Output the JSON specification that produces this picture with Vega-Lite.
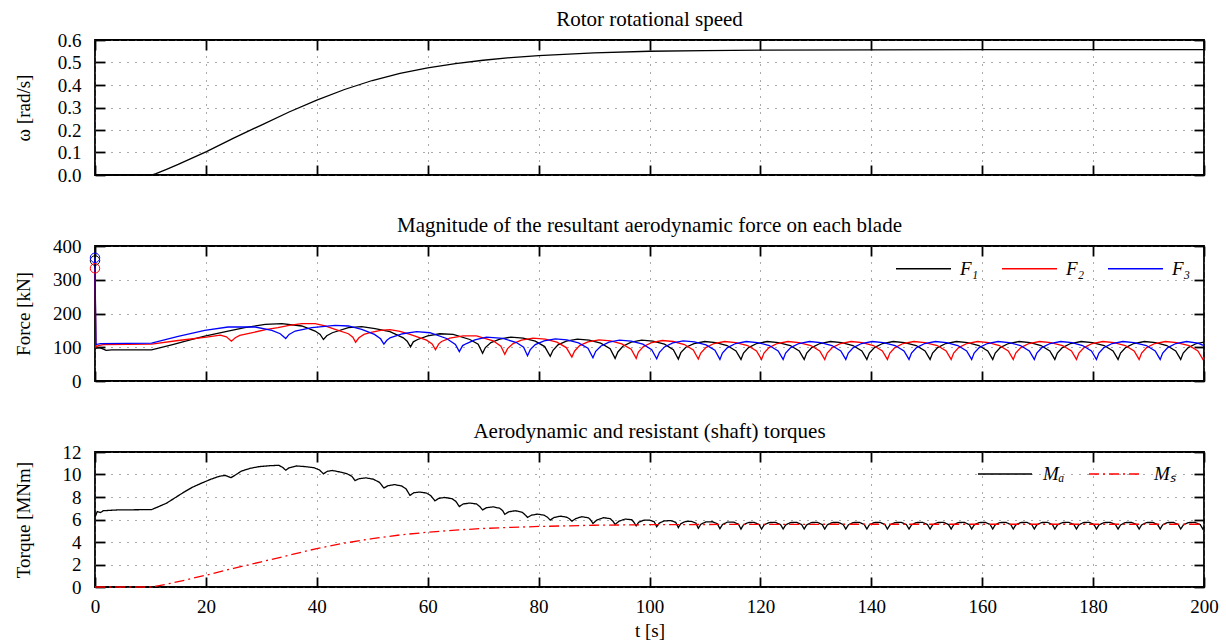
{
"$schema": "https://vega.github.io/schema/vega-lite/v6.json",
"padding": {"left": 13, "top": 8, "right": 5, "bottom": 2},
"config": {
 "font": "Liberation Serif",
 "view": {"stroke": "black", "strokeWidth": 1.8},
 "axis": {"domain": false, "labelFont": "Liberation Serif", "labelFontSize": 19, "labelColor": "black", "titleFont": "Liberation Serif", "titleFontSize": 19, "titleFontWeight": "normal", "titleColor": "black", "tickColor": "black", "tickWidth": 1.8, "tickSize": -10, "gridColor": "#555", "gridDash": [1, 7], "gridWidth": 1, "gridOpacity": 1, "labelFlush": false, "labelOverlap": false},
 "title": {"font": "Liberation Serif", "fontSize": 21, "fontWeight": "normal", "color": "black", "offset": 1, "baseline": "alphabetic"},
 "legend": {"labelFont": "Liberation Serif", "labelFontSize": 19, "labelFontStyle": "italic", "labelColor": "black"}
},
"datasets": {
 "omega": [
  {"t":0,"v":0},{"t":10.2,"v":0},{"t":11,"v":0.006},{"t":12.9,"v":0.025},{"t":15,"v":0.047},{"t":20.1,"v":0.104},{"t":25,"v":0.164},{"t":30,"v":0.222},{"t":35,"v":0.28},{"t":40,"v":0.333},{"t":45,"v":0.38},{"t":50,"v":0.42},{"t":55,"v":0.452},{"t":60,"v":0.476},{"t":65,"v":0.495},{"t":70,"v":0.51},{"t":75,"v":0.522},{"t":80,"v":0.531},{"t":90,"v":0.543},{"t":100,"v":0.55},{"t":110,"v":0.553},{"t":120,"v":0.555},{"t":140,"v":0.556},{"t":160,"v":0.557},{"t":200,"v":0.557}
 ],
 "start": [
  {"s":"F₁","t":0,"v":357},{"s":"F₂","t":0,"v":334},{"s":"F₃","t":0,"v":365}
 ],
 "force": [
  {"s":"F₁","t":0,"v":357},{"s":"F₁","t":0.15,"v":97},{"s":"F₁","t":0.8,"v":99},{"s":"F₁","t":1.3,"v":96},{"s":"F₁","t":2.0,"v":91},{"s":"F₁","t":3,"v":92},{"s":"F₁","t":10.2,"v":92},{"s":"F₁","t":14,"v":108},{"s":"F₁","t":17,"v":121},{"s":"F₁","t":19.8,"v":133},{"s":"F₁","t":24,"v":148},{"s":"F₁","t":27,"v":158},{"s":"F₁","t":30.7,"v":168},{"s":"F₁","t":33.7,"v":170},{"s":"F₁","t":37.3,"v":163},{"s":"F₁","t":39.7,"v":148},{"s":"F₁","t":40.6,"v":138},{"s":"F₁","t":41.2,"v":123},{"s":"F₁","t":41.8,"v":134},{"s":"F₁","t":42.8,"v":143},{"s":"F₁","t":45.7,"v":158},{"s":"F₁","t":48.1,"v":161},{"s":"F₁","t":50.5,"v":155},{"s":"F₁","t":53.2,"v":146},{"s":"F₁","t":55.6,"v":128},{"s":"F₁","t":56.3,"v":118},{"s":"F₁","t":56.9,"v":101},{"s":"F₁","t":57.4,"v":116},{"s":"F₁","t":58.2,"v":123},{"s":"F₁","t":60,"v":134},{"s":"F₁","t":62.2,"v":140},{"s":"F₁","t":64.6,"v":138},{"s":"F₁","t":67.6,"v":123},{"s":"F₁","t":69.1,"v":109},{"s":"F₁","t":69.9,"v":82},
  {"s":"F₁","t":70.4,"v":99},{"s":"F₁","t":71.4,"v":114},{"s":"F₁","t":73.0,"v":124},{"s":"F₁","t":75.0,"v":130},{"s":"F₁","t":77.2,"v":127},{"s":"F₁","t":79.4,"v":118},{"s":"F₁","t":81.1,"v":102},{"s":"F₁","t":82.1,"v":73},
  {"s":"F₁","t":82.6,"v":91},{"s":"F₁","t":83.5,"v":107},{"s":"F₁","t":85.0,"v":118},{"s":"F₁","t":87.0,"v":124},{"s":"F₁","t":89.1,"v":121},{"s":"F₁","t":91.2,"v":112},{"s":"F₁","t":92.9,"v":96},{"s":"F₁","t":93.8,"v":67},
  {"s":"F₁","t":94.3,"v":86},{"s":"F₁","t":95.2,"v":103},{"s":"F₁","t":96.7,"v":115},{"s":"F₁","t":98.6,"v":121},{"s":"F₁","t":100.6,"v":118},{"s":"F₁","t":102.7,"v":109},{"s":"F₁","t":104.3,"v":93},{"s":"F₁","t":105.2,"v":65},
  {"s":"F₁","t":105.65,"v":84},{"s":"F₁","t":106.56,"v":100},{"s":"F₁","t":108.03,"v":111},{"s":"F₁","t":109.95,"v":117},{"s":"F₁","t":111.98,"v":114},{"s":"F₁","t":114.0,"v":105},{"s":"F₁","t":115.6,"v":89},{"s":"F₁","t":116.5,"v":64},
  {"s":"F₁","t":116.95,"v":83},{"s":"F₁","t":117.86,"v":99},{"s":"F₁","t":119.33,"v":111},{"s":"F₁","t":121.25,"v":117},{"s":"F₁","t":123.28,"v":114},{"s":"F₁","t":125.4,"v":105},{"s":"F₁","t":127.0,"v":89},{"s":"F₁","t":127.9,"v":64},
  {"s":"F₁","t":128.35,"v":83},{"s":"F₁","t":129.26,"v":99},{"s":"F₁","t":130.73,"v":111},{"s":"F₁","t":132.65,"v":117},{"s":"F₁","t":134.68,"v":114},{"s":"F₁","t":136.7,"v":105},{"s":"F₁","t":138.3,"v":89},{"s":"F₁","t":139.2,"v":64},
  {"s":"F₁","t":139.65,"v":83},{"s":"F₁","t":140.56,"v":99},{"s":"F₁","t":142.03,"v":111},{"s":"F₁","t":143.95,"v":117},{"s":"F₁","t":145.98,"v":114},{"s":"F₁","t":148.1,"v":105},{"s":"F₁","t":149.7,"v":89},{"s":"F₁","t":150.6,"v":64},
  {"s":"F₁","t":151.05,"v":83},{"s":"F₁","t":151.96,"v":99},{"s":"F₁","t":153.43,"v":111},{"s":"F₁","t":155.35,"v":117},{"s":"F₁","t":157.38,"v":114},{"s":"F₁","t":159.4,"v":105},{"s":"F₁","t":161.0,"v":89},{"s":"F₁","t":161.9,"v":64},
  {"s":"F₁","t":162.35,"v":83},{"s":"F₁","t":163.26,"v":99},{"s":"F₁","t":164.73,"v":111},{"s":"F₁","t":166.65,"v":117},{"s":"F₁","t":168.68,"v":114},{"s":"F₁","t":170.6,"v":105},{"s":"F₁","t":172.2,"v":89},{"s":"F₁","t":173.1,"v":64},
  {"s":"F₁","t":173.55,"v":83},{"s":"F₁","t":174.46,"v":99},{"s":"F₁","t":175.93,"v":111},{"s":"F₁","t":177.85,"v":117},{"s":"F₁","t":179.88,"v":114},{"s":"F₁","t":182.0,"v":105},{"s":"F₁","t":183.6,"v":89},{"s":"F₁","t":184.5,"v":64},
  {"s":"F₁","t":184.95,"v":83},{"s":"F₁","t":185.86,"v":99},{"s":"F₁","t":187.33,"v":111},{"s":"F₁","t":189.25,"v":117},{"s":"F₁","t":191.28,"v":114},{"s":"F₁","t":193.3,"v":105},{"s":"F₁","t":194.9,"v":89},{"s":"F₁","t":195.8,"v":64},
  {"s":"F₁","t":196.25,"v":83},{"s":"F₁","t":197.16,"v":99},{"s":"F₁","t":198.63,"v":111},{"s":"F₁","t":200,"v":115},

  {"s":"F₂","t":0,"v":334},{"s":"F₂","t":0.15,"v":100},{"s":"F₂","t":0.6,"v":105},{"s":"F₂","t":1.5,"v":108},{"s":"F₂","t":10.2,"v":109},{"s":"F₂","t":15,"v":120},{"s":"F₂","t":20.1,"v":130},{"s":"F₂","t":22.6,"v":136},{"s":"F₂","t":23.7,"v":131},{"s":"F₂","t":24.6,"v":118},{"s":"F₂","t":25.3,"v":128},{"s":"F₂","t":26.1,"v":135},{"s":"F₂","t":28,"v":142},{"s":"F₂","t":31,"v":153},{"s":"F₂","t":33,"v":158},{"s":"F₂","t":35,"v":165},{"s":"F₂","t":37.3,"v":170},{"s":"F₂","t":39.7,"v":170},{"s":"F₂","t":41.5,"v":163},{"s":"F₂","t":43.3,"v":153},{"s":"F₂","t":45.7,"v":140},{"s":"F₂","t":46.5,"v":130},{"s":"F₂","t":47.0,"v":115},{"s":"F₂","t":47.6,"v":128},{"s":"F₂","t":48.5,"v":138},{"s":"F₂","t":49.6,"v":143},{"s":"F₂","t":51.5,"v":150},{"s":"F₂","t":53.2,"v":152},{"s":"F₂","t":55,"v":147},{"s":"F₂","t":56.8,"v":138},{"s":"F₂","t":59.8,"v":121},{"s":"F₂","t":60.8,"v":110},{"s":"F₂","t":61.4,"v":93},{"s":"F₂","t":62.0,"v":110},{"s":"F₂","t":62.5,"v":117},{"s":"F₂","t":64,"v":127},{"s":"F₂","t":66.4,"v":134},{"s":"F₂","t":68.8,"v":134},{"s":"F₂","t":71.8,"v":119},{"s":"F₂","t":73.2,"v":103},{"s":"F₂","t":73.9,"v":79},
  {"s":"F₂","t":74.4,"v":96},{"s":"F₂","t":75.4,"v":111},{"s":"F₂","t":76.9,"v":121},{"s":"F₂","t":79.0,"v":127},{"s":"F₂","t":81.2,"v":124},{"s":"F₂","t":83.3,"v":115},{"s":"F₂","t":85.0,"v":99},{"s":"F₂","t":86.0,"v":71},
  {"s":"F₂","t":86.5,"v":89},{"s":"F₂","t":87.4,"v":105},{"s":"F₂","t":88.9,"v":116},{"s":"F₂","t":90.9,"v":122},{"s":"F₂","t":93.0,"v":119},{"s":"F₂","t":95.0,"v":110},{"s":"F₂","t":96.7,"v":94},{"s":"F₂","t":97.6,"v":67},
  {"s":"F₂","t":98.0,"v":86},{"s":"F₂","t":98.9,"v":102},{"s":"F₂","t":100.4,"v":114},{"s":"F₂","t":102.3,"v":120},{"s":"F₂","t":104.3,"v":117},{"s":"F₂","t":106.3,"v":108},{"s":"F₂","t":107.9,"v":92},{"s":"F₂","t":108.8,"v":65},
  {"s":"F₂","t":109.25,"v":83},{"s":"F₂","t":110.16,"v":99},{"s":"F₂","t":111.63,"v":111},{"s":"F₂","t":113.55,"v":117},{"s":"F₂","t":115.58,"v":114},{"s":"F₂","t":117.7,"v":105},{"s":"F₂","t":119.3,"v":89},{"s":"F₂","t":120.2,"v":64},
  {"s":"F₂","t":120.65,"v":83},{"s":"F₂","t":121.56,"v":99},{"s":"F₂","t":123.03,"v":111},{"s":"F₂","t":124.95,"v":117},{"s":"F₂","t":126.98,"v":114},{"s":"F₂","t":129.1,"v":105},{"s":"F₂","t":130.7,"v":89},{"s":"F₂","t":131.6,"v":64},
  {"s":"F₂","t":132.05,"v":83},{"s":"F₂","t":132.96,"v":99},{"s":"F₂","t":134.43,"v":111},{"s":"F₂","t":136.35,"v":117},{"s":"F₂","t":138.38,"v":114},{"s":"F₂","t":140.4,"v":105},{"s":"F₂","t":142.0,"v":89},{"s":"F₂","t":142.9,"v":64},
  {"s":"F₂","t":143.35,"v":83},{"s":"F₂","t":144.26,"v":99},{"s":"F₂","t":145.73,"v":111},{"s":"F₂","t":147.65,"v":117},{"s":"F₂","t":149.68,"v":114},{"s":"F₂","t":151.9,"v":105},{"s":"F₂","t":153.5,"v":89},{"s":"F₂","t":154.4,"v":64},
  {"s":"F₂","t":154.85,"v":83},{"s":"F₂","t":155.76,"v":99},{"s":"F₂","t":157.23,"v":111},{"s":"F₂","t":159.15,"v":117},{"s":"F₂","t":161.18,"v":114},{"s":"F₂","t":163.1,"v":105},{"s":"F₂","t":164.7,"v":89},{"s":"F₂","t":165.6,"v":64},
  {"s":"F₂","t":166.05,"v":83},{"s":"F₂","t":166.96,"v":99},{"s":"F₂","t":168.43,"v":111},{"s":"F₂","t":170.35,"v":117},{"s":"F₂","t":172.38,"v":114},{"s":"F₂","t":174.5,"v":105},{"s":"F₂","t":176.1,"v":89},{"s":"F₂","t":177.0,"v":64},
  {"s":"F₂","t":177.45,"v":83},{"s":"F₂","t":178.36,"v":99},{"s":"F₂","t":179.83,"v":111},{"s":"F₂","t":181.75,"v":117},{"s":"F₂","t":183.78,"v":114},{"s":"F₂","t":185.8,"v":105},{"s":"F₂","t":187.4,"v":89},{"s":"F₂","t":188.3,"v":64},
  {"s":"F₂","t":188.75,"v":83},{"s":"F₂","t":189.66,"v":99},{"s":"F₂","t":191.13,"v":111},{"s":"F₂","t":193.05,"v":117},{"s":"F₂","t":195.08,"v":114},{"s":"F₂","t":197.3,"v":105},{"s":"F₂","t":198.9,"v":89},{"s":"F₂","t":199.8,"v":64},{"s":"F₂","t":200,"v":72},

  {"s":"F₃","t":0,"v":365},{"s":"F₃","t":0.15,"v":108},{"s":"F₃","t":1,"v":111},{"s":"F₃","t":10.2,"v":112},{"s":"F₃","t":15,"v":132},{"s":"F₃","t":19.8,"v":150},{"s":"F₃","t":24,"v":160},{"s":"F₃","t":28.9,"v":160},{"s":"F₃","t":31.9,"v":150},{"s":"F₃","t":33.4,"v":140},{"s":"F₃","t":34.4,"v":126},{"s":"F₃","t":35.0,"v":138},{"s":"F₃","t":36.1,"v":148},{"s":"F₃","t":39.1,"v":158},{"s":"F₃","t":43.3,"v":165},{"s":"F₃","t":45.7,"v":163},{"s":"F₃","t":48.1,"v":153},{"s":"F₃","t":50.4,"v":138},{"s":"F₃","t":51.5,"v":125},{"s":"F₃","t":52.1,"v":109},{"s":"F₃","t":52.6,"v":120},{"s":"F₃","t":53.2,"v":128},{"s":"F₃","t":55.5,"v":140},{"s":"F₃","t":58,"v":146},{"s":"F₃","t":60.4,"v":143},{"s":"F₃","t":63.4,"v":126},{"s":"F₃","t":65.0,"v":108},{"s":"F₃","t":65.7,"v":87},{"s":"F₃","t":66.3,"v":105},{"s":"F₃","t":67,"v":111},{"s":"F₃","t":68.5,"v":122},{"s":"F₃","t":70.6,"v":130},{"s":"F₃","t":73.6,"v":126},{"s":"F₃","t":76,"v":114},{"s":"F₃","t":77.3,"v":100},{"s":"F₃","t":78.0,"v":75},
  {"s":"F₃","t":78.5,"v":93},{"s":"F₃","t":79.4,"v":108},{"s":"F₃","t":81.0,"v":119},{"s":"F₃","t":83.0,"v":125},{"s":"F₃","t":85.1,"v":122},{"s":"F₃","t":87.2,"v":113},{"s":"F₃","t":88.9,"v":97},{"s":"F₃","t":89.8,"v":69},
  {"s":"F₃","t":90.3,"v":88},{"s":"F₃","t":91.2,"v":103},{"s":"F₃","t":92.7,"v":115},{"s":"F₃","t":94.6,"v":121},{"s":"F₃","t":96.7,"v":118},{"s":"F₃","t":98.8,"v":109},{"s":"F₃","t":100.4,"v":93},{"s":"F₃","t":101.3,"v":66},
  {"s":"F₃","t":101.8,"v":85},{"s":"F₃","t":102.7,"v":101},{"s":"F₃","t":104.2,"v":113},{"s":"F₃","t":106.1,"v":119},{"s":"F₃","t":108.1,"v":116},{"s":"F₃","t":110.2,"v":107},{"s":"F₃","t":111.8,"v":91},{"s":"F₃","t":112.7,"v":64},
  {"s":"F₃","t":113.15,"v":83},{"s":"F₃","t":114.06,"v":99},{"s":"F₃","t":115.53,"v":111},{"s":"F₃","t":117.45,"v":117},{"s":"F₃","t":119.48,"v":114},{"s":"F₃","t":121.6,"v":105},{"s":"F₃","t":123.2,"v":89},{"s":"F₃","t":124.1,"v":64},
  {"s":"F₃","t":124.55,"v":83},{"s":"F₃","t":125.46,"v":99},{"s":"F₃","t":126.93,"v":111},{"s":"F₃","t":128.85,"v":117},{"s":"F₃","t":130.88,"v":114},{"s":"F₃","t":132.9,"v":105},{"s":"F₃","t":134.5,"v":89},{"s":"F₃","t":135.4,"v":64},
  {"s":"F₃","t":135.85,"v":83},{"s":"F₃","t":136.76,"v":99},{"s":"F₃","t":138.23,"v":111},{"s":"F₃","t":140.15,"v":117},{"s":"F₃","t":142.18,"v":114},{"s":"F₃","t":144.3,"v":105},{"s":"F₃","t":145.9,"v":89},{"s":"F₃","t":146.8,"v":64},
  {"s":"F₃","t":147.25,"v":83},{"s":"F₃","t":148.16,"v":99},{"s":"F₃","t":149.63,"v":111},{"s":"F₃","t":151.55,"v":117},{"s":"F₃","t":153.58,"v":114},{"s":"F₃","t":155.6,"v":105},{"s":"F₃","t":157.2,"v":89},{"s":"F₃","t":158.1,"v":64},
  {"s":"F₃","t":158.55,"v":83},{"s":"F₃","t":159.46,"v":99},{"s":"F₃","t":160.93,"v":111},{"s":"F₃","t":162.85,"v":117},{"s":"F₃","t":164.88,"v":114},{"s":"F₃","t":166.9,"v":105},{"s":"F₃","t":168.5,"v":89},{"s":"F₃","t":169.4,"v":64},
  {"s":"F₃","t":169.85,"v":83},{"s":"F₃","t":170.76,"v":99},{"s":"F₃","t":172.23,"v":111},{"s":"F₃","t":174.15,"v":117},{"s":"F₃","t":176.18,"v":114},{"s":"F₃","t":178.1,"v":105},{"s":"F₃","t":179.7,"v":89},{"s":"F₃","t":180.6,"v":64},
  {"s":"F₃","t":181.05,"v":83},{"s":"F₃","t":181.96,"v":99},{"s":"F₃","t":183.43,"v":111},{"s":"F₃","t":185.35,"v":117},{"s":"F₃","t":187.38,"v":114},{"s":"F₃","t":189.6,"v":105},{"s":"F₃","t":191.2,"v":89},{"s":"F₃","t":192.1,"v":64},
  {"s":"F₃","t":192.55,"v":83},{"s":"F₃","t":193.46,"v":99},{"s":"F₃","t":194.93,"v":111},{"s":"F₃","t":196.85,"v":117},{"s":"F₃","t":198.88,"v":112},{"s":"F₃","t":200,"v":105}
 ],
 "torque": [
  {"s":"Mₐ","t":0,"v":6.2},{"s":"Mₐ","t":0.4,"v":6.7},{"s":"Mₐ","t":1.0,"v":6.62},{"s":"Mₐ","t":1.5,"v":6.78},{"s":"Mₐ","t":4,"v":6.85},{"s":"Mₐ","t":10.2,"v":6.88},{"s":"Mₐ","t":11.5,"v":7.15},{"s":"Mₐ","t":12.9,"v":7.45},{"s":"Mₐ","t":14.5,"v":7.95},{"s":"Mₐ","t":16.1,"v":8.45},{"s":"Mₐ","t":17.5,"v":8.85},{"s":"Mₐ","t":19.3,"v":9.25},{"s":"Mₐ","t":21,"v":9.6},{"s":"Mₐ","t":22.5,"v":9.85},{"s":"Mₐ","t":23.5,"v":9.92},{"s":"Mₐ","t":24.5,"v":9.72},{"s":"Mₐ","t":25.3,"v":9.95},{"s":"Mₐ","t":26.4,"v":10.3},{"s":"Mₐ","t":28,"v":10.55},{"s":"Mₐ","t":29.6,"v":10.7},{"s":"Mₐ","t":31.5,"v":10.78},{"s":"Mₐ","t":33.1,"v":10.82},{"s":"Mₐ","t":33.8,"v":10.65},{"s":"Mₐ","t":34.4,"v":10.38},{"s":"Mₐ","t":35.0,"v":10.6},{"s":"Mₐ","t":36.3,"v":10.76},{"s":"Mₐ","t":38,"v":10.7},{"s":"Mₐ","t":39.5,"v":10.6},{"s":"Mₐ","t":40.5,"v":10.4},{"s":"Mₐ","t":41.2,"v":10.06},{"s":"Mₐ","t":41.9,"v":10.28},{"s":"Mₐ","t":42.8,"v":10.36},{"s":"Mₐ","t":44.2,"v":10.22},{"s":"Mₐ","t":45.5,"v":10.05},{"s":"Mₐ","t":46.3,"v":9.85},{"s":"Mₐ","t":46.9,"v":9.46},{"s":"Mₐ","t":47.6,"v":9.62},{"s":"Mₐ","t":48.9,"v":9.7},{"s":"Mₐ","t":50.2,"v":9.58},{"s":"Mₐ","t":51.3,"v":9.3},{"s":"Mₐ","t":52.1,"v":8.8},{"s":"Mₐ","t":52.8,"v":9.0},{"s":"Mₐ","t":54,"v":9.1},{"s":"Mₐ","t":55.3,"v":8.98},{"s":"Mₐ","t":56.1,"v":8.72},{"s":"Mₐ","t":56.8,"v":8.14},{"s":"Mₐ","t":57.5,"v":8.38},{"s":"Mₐ","t":58.5,"v":8.44},{"s":"Mₐ","t":59.8,"v":8.35},{"s":"Mₐ","t":60.6,"v":8.1},{"s":"Mₐ","t":61.3,"v":7.66},{"s":"Mₐ","t":62.0,"v":7.88},{"s":"Mₐ","t":63,"v":7.96},{"s":"Mₐ","t":64.4,"v":7.85},{"s":"Mₐ","t":65.1,"v":7.6},{"s":"Mₐ","t":65.7,"v":7.15},{"s":"Mₐ","t":66.4,"v":7.38},{"s":"Mₐ","t":67.6,"v":7.46},{"s":"Mₐ","t":68.8,"v":7.38},{"s":"Mₐ","t":69.4,"v":7.15},{"s":"Mₐ","t":69.9,"v":6.85},{"s":"Mₐ","t":70.6,"v":7.05},{"s":"Mₐ","t":71.8,"v":7.12},{"s":"Mₐ","t":73.0,"v":7.0},{"s":"Mₐ","t":73.5,"v":6.8},{"s":"Mₐ","t":73.9,"v":6.46},{"s":"Mₐ","t":74.6,"v":6.68},{"s":"Mₐ","t":75.8,"v":6.78},{"s":"Mₐ","t":77.0,"v":6.65},{"s":"Mₐ","t":77.5,"v":6.45},{"s":"Mₐ","t":78.0,"v":6.19},{"s":"Mₐ","t":78.7,"v":6.38},{"s":"Mₐ","t":79.8,"v":6.48},{"s":"Mₐ","t":81.0,"v":6.38},{"s":"Mₐ","t":81.6,"v":6.2},{"s":"Mₐ","t":82.1,"v":5.95},{"s":"Mₐ","t":82.8,"v":6.18},{"s":"Mₐ","t":84.0,"v":6.3},{"s":"Mₐ","t":85.1,"v":6.2},{"s":"Mₐ","t":85.6,"v":6.05},{"s":"Mₐ","t":86.0,"v":5.85},{"s":"Mₐ","t":86.7,"v":6.08},{"s":"Mₐ","t":87.8,"v":6.25},{"s":"Mₐ","t":89.0,"v":6.15},{"s":"Mₐ","t":89.4,"v":5.95},{"s":"Mₐ","t":89.8,"v":5.65},{"s":"Mₐ","t":90.5,"v":5.95},{"s":"Mₐ","t":91.7,"v":6.16},{"s":"Mₐ","t":92.9,"v":6.08},{"s":"Mₐ","t":93.4,"v":5.85},{"s":"Mₐ","t":93.8,"v":5.56},{"s":"Mₐ","t":94.5,"v":5.85},{"s":"Mₐ","t":95.6,"v":6.04},{"s":"Mₐ","t":96.8,"v":5.98},{"s":"Mₐ","t":97.2,"v":5.75},{"s":"Mₐ","t":97.6,"v":5.44},
  {"s":"Mₐ","t":98.05,"v":5.75},{"s":"Mₐ","t":98.9,"v":5.93},{"s":"Mₐ","t":100.0,"v":5.95},{"s":"Mₐ","t":100.85,"v":5.8},{"s":"Mₐ","t":101.3,"v":5.36},
  {"s":"Mₐ","t":101.77,"v":5.68},{"s":"Mₐ","t":102.67,"v":5.88},{"s":"Mₐ","t":103.84,"v":5.9},{"s":"Mₐ","t":104.73,"v":5.75},{"s":"Mₐ","t":105.2,"v":5.28},
  {"s":"Mₐ","t":105.63,"v":5.62},{"s":"Mₐ","t":106.46,"v":5.82},{"s":"Mₐ","t":107.54,"v":5.84},{"s":"Mₐ","t":108.37,"v":5.68},{"s":"Mₐ","t":108.8,"v":5.22},
  {"s":"Mₐ","t":109.27,"v":5.58},{"s":"Mₐ","t":110.17,"v":5.79},{"s":"Mₐ","t":111.34,"v":5.8},{"s":"Mₐ","t":112.23,"v":5.63},{"s":"Mₐ","t":112.7,"v":5.18},
  {"s":"Mₐ","t":113.16,"v":5.55},{"s":"Mₐ","t":114.03,"v":5.76},{"s":"Mₐ","t":115.17,"v":5.77},{"s":"Mₐ","t":116.04,"v":5.58},{"s":"Mₐ","t":116.5,"v":5.15},
  {"s":"Mₐ","t":116.94,"v":5.52},{"s":"Mₐ","t":117.8,"v":5.73},{"s":"Mₐ","t":118.9,"v":5.74},{"s":"Mₐ","t":119.76,"v":5.55},{"s":"Mₐ","t":120.2,"v":5.15},
  {"s":"Mₐ","t":120.67,"v":5.52},{"s":"Mₐ","t":121.57,"v":5.73},{"s":"Mₐ","t":122.74,"v":5.74},{"s":"Mₐ","t":123.63,"v":5.55},{"s":"Mₐ","t":124.1,"v":5.15},
  {"s":"Mₐ","t":124.56,"v":5.52},{"s":"Mₐ","t":125.43,"v":5.73},{"s":"Mₐ","t":126.57,"v":5.74},{"s":"Mₐ","t":127.44,"v":5.55},{"s":"Mₐ","t":127.9,"v":5.15},
  {"s":"Mₐ","t":128.34,"v":5.52},{"s":"Mₐ","t":129.2,"v":5.73},{"s":"Mₐ","t":130.3,"v":5.74},{"s":"Mₐ","t":131.16,"v":5.55},{"s":"Mₐ","t":131.6,"v":5.15},
  {"s":"Mₐ","t":132.06,"v":5.52},{"s":"Mₐ","t":132.93,"v":5.73},{"s":"Mₐ","t":134.07,"v":5.74},{"s":"Mₐ","t":134.94,"v":5.55},{"s":"Mₐ","t":135.4,"v":5.15},
  {"s":"Mₐ","t":135.86,"v":5.52},{"s":"Mₐ","t":136.73,"v":5.73},{"s":"Mₐ","t":137.87,"v":5.74},{"s":"Mₐ","t":138.74,"v":5.55},{"s":"Mₐ","t":139.2,"v":5.15},
  {"s":"Mₐ","t":139.64,"v":5.52},{"s":"Mₐ","t":140.5,"v":5.73},{"s":"Mₐ","t":141.6,"v":5.74},{"s":"Mₐ","t":142.46,"v":5.55},{"s":"Mₐ","t":142.9,"v":5.15},
  {"s":"Mₐ","t":143.37,"v":5.52},{"s":"Mₐ","t":144.27,"v":5.73},{"s":"Mₐ","t":145.44,"v":5.74},{"s":"Mₐ","t":146.33,"v":5.55},{"s":"Mₐ","t":146.8,"v":5.15},
  {"s":"Mₐ","t":147.26,"v":5.52},{"s":"Mₐ","t":148.13,"v":5.73},{"s":"Mₐ","t":149.27,"v":5.74},{"s":"Mₐ","t":150.14,"v":5.55},{"s":"Mₐ","t":150.6,"v":5.15},
  {"s":"Mₐ","t":151.06,"v":5.52},{"s":"Mₐ","t":151.93,"v":5.73},{"s":"Mₐ","t":153.07,"v":5.74},{"s":"Mₐ","t":153.94,"v":5.55},{"s":"Mₐ","t":154.4,"v":5.15},
  {"s":"Mₐ","t":154.84,"v":5.52},{"s":"Mₐ","t":155.7,"v":5.73},{"s":"Mₐ","t":156.8,"v":5.74},{"s":"Mₐ","t":157.66,"v":5.55},{"s":"Mₐ","t":158.1,"v":5.15},
  {"s":"Mₐ","t":158.56,"v":5.52},{"s":"Mₐ","t":159.43,"v":5.73},{"s":"Mₐ","t":160.57,"v":5.74},{"s":"Mₐ","t":161.44,"v":5.55},{"s":"Mₐ","t":161.9,"v":5.15},
  {"s":"Mₐ","t":162.34,"v":5.52},{"s":"Mₐ","t":163.2,"v":5.73},{"s":"Mₐ","t":164.3,"v":5.74},{"s":"Mₐ","t":165.16,"v":5.55},{"s":"Mₐ","t":165.6,"v":5.15},
  {"s":"Mₐ","t":166.06,"v":5.52},{"s":"Mₐ","t":166.93,"v":5.73},{"s":"Mₐ","t":168.07,"v":5.74},{"s":"Mₐ","t":168.94,"v":5.55},{"s":"Mₐ","t":169.4,"v":5.15},
  {"s":"Mₐ","t":169.84,"v":5.52},{"s":"Mₐ","t":170.7,"v":5.73},{"s":"Mₐ","t":171.8,"v":5.74},{"s":"Mₐ","t":172.66,"v":5.55},{"s":"Mₐ","t":173.1,"v":5.15},
  {"s":"Mₐ","t":173.57,"v":5.52},{"s":"Mₐ","t":174.47,"v":5.73},{"s":"Mₐ","t":175.64,"v":5.74},{"s":"Mₐ","t":176.53,"v":5.55},{"s":"Mₐ","t":177.0,"v":5.15},
  {"s":"Mₐ","t":177.43,"v":5.52},{"s":"Mₐ","t":178.26,"v":5.73},{"s":"Mₐ","t":179.34,"v":5.74},{"s":"Mₐ","t":180.17,"v":5.55},{"s":"Mₐ","t":180.6,"v":5.15},
  {"s":"Mₐ","t":181.07,"v":5.52},{"s":"Mₐ","t":181.97,"v":5.73},{"s":"Mₐ","t":183.14,"v":5.74},{"s":"Mₐ","t":184.03,"v":5.55},{"s":"Mₐ","t":184.5,"v":5.15},
  {"s":"Mₐ","t":184.96,"v":5.52},{"s":"Mₐ","t":185.83,"v":5.73},{"s":"Mₐ","t":186.97,"v":5.74},{"s":"Mₐ","t":187.84,"v":5.55},{"s":"Mₐ","t":188.3,"v":5.15},
  {"s":"Mₐ","t":188.76,"v":5.52},{"s":"Mₐ","t":189.63,"v":5.73},{"s":"Mₐ","t":190.77,"v":5.74},{"s":"Mₐ","t":191.64,"v":5.55},{"s":"Mₐ","t":192.1,"v":5.15},
  {"s":"Mₐ","t":192.54,"v":5.52},{"s":"Mₐ","t":193.4,"v":5.73},{"s":"Mₐ","t":194.5,"v":5.74},{"s":"Mₐ","t":195.36,"v":5.55},{"s":"Mₐ","t":195.8,"v":5.15},
  {"s":"Mₐ","t":196.28,"v":5.52},{"s":"Mₐ","t":197.2,"v":5.73},{"s":"Mₐ","t":198.4,"v":5.74},{"s":"Mₐ","t":199.32,"v":5.55},{"s":"Mₐ","t":199.8,"v":5.15},{"s":"Mₐ","t":200,"v":5.3},

  {"s":"Mₛ","t":0,"v":0},{"s":"Mₛ","t":10.2,"v":0},{"s":"Mₛ","t":12.9,"v":0.25},{"s":"Mₛ","t":15,"v":0.47},{"s":"Mₛ","t":20.1,"v":1.06},{"s":"Mₛ","t":25,"v":1.66},{"s":"Mₛ","t":30,"v":2.24},{"s":"Mₛ","t":35,"v":2.82},{"s":"Mₛ","t":40,"v":3.42},{"s":"Mₛ","t":45,"v":3.9},{"s":"Mₛ","t":50,"v":4.3},{"s":"Mₛ","t":55,"v":4.63},{"s":"Mₛ","t":60,"v":4.87},{"s":"Mₛ","t":65,"v":5.06},{"s":"Mₛ","t":70,"v":5.2},{"s":"Mₛ","t":75,"v":5.3},{"s":"Mₛ","t":80,"v":5.38},{"s":"Mₛ","t":90,"v":5.49},{"s":"Mₛ","t":100,"v":5.54},{"s":"Mₛ","t":120,"v":5.57},{"s":"Mₛ","t":140,"v":5.58},{"s":"Mₛ","t":200,"v":5.58}
 ]
},
"vconcat": [
 {
  "width": 1109, "height": 135,
  "title": {"text": "Rotor rotational speed"},
  "layer": [
   {"data": {"name": "omega"}, "mark": {"type": "line", "color": "black", "strokeWidth": 1.3},
    "encoding": {
     "x": {"field": "t", "type": "quantitative", "scale": {"domain": [0, 200]}, "axis": {"orient": "bottom", "values": [0,20,40,60,80,100,120,140,160,180,200], "labels": false, "title": null}},
     "y": {"field": "v", "type": "quantitative", "scale": {"domain": [0, 0.6]}, "axis": {"orient": "left", "values": [0,0.1,0.2,0.3,0.4,0.5,0.6], "format": ".1f", "labelPadding": 24, "title": "ω [rad/s]", "titleX": -62}}
    }},
   {"data": {"name": "omega"}, "mark": {"type": "line", "opacity": 0},
    "encoding": {
     "x": {"field": "t", "type": "quantitative", "axis": {"orient": "top", "values": [0,20,40,60,80,100,120,140,160,180,200], "labels": false, "grid": false, "title": null}},
     "y": {"field": "v", "type": "quantitative", "axis": {"orient": "right", "values": [0,0.1,0.2,0.3,0.4,0.5,0.6], "labels": false, "grid": false, "title": null}}
    }}
  ],
  "resolve": {"axis": {"x": "independent", "y": "independent"}}
 },
 {
  "width": 1109, "height": 135,
  "title": {"text": "Magnitude of the resultant aerodynamic force on each blade"},
  "layer": [
   {"data": {"name": "force"}, "mark": {"type": "line", "strokeWidth": 1.3},
    "encoding": {
     "x": {"field": "t", "type": "quantitative", "scale": {"domain": [0, 200]}, "axis": {"orient": "bottom", "values": [0,20,40,60,80,100,120,140,160,180,200], "labels": false, "title": null}},
     "y": {"field": "v", "type": "quantitative", "scale": {"domain": [0, 400]}, "axis": {"orient": "left", "values": [0,100,200,300,400], "labelPadding": 24, "title": "Force [kN]", "titleX": -62}},
     "color": {"field": "s", "type": "nominal", "scale": {"domain": ["F₁","F₂","F₃"], "range": ["black","red","blue"]},
       "legend": {"orient": "none", "legendX": 800, "legendY": -6, "direction": "horizontal", "title": null, "symbolType": "stroke", "symbolSize": 3025, "symbolStrokeWidth": 1.5, "columnPadding": 20, "labelOffset": 8, "padding": 0}}
    }},
   {"data": {"name": "start"}, "mark": {"type": "point", "filled": false, "size": 90, "strokeWidth": 1, "opacity": 1},
    "encoding": {
     "x": {"field": "t", "type": "quantitative", "axis": null},
     "y": {"field": "v", "type": "quantitative", "axis": null},
     "color": {"field": "s", "type": "nominal", "legend": null}
    }},
   {"data": {"name": "start"}, "mark": {"type": "point", "opacity": 0},
    "encoding": {
     "x": {"field": "t", "type": "quantitative", "axis": {"orient": "top", "values": [0,20,40,60,80,100,120,140,160,180,200], "labels": false, "grid": false, "title": null}},
     "y": {"field": "v", "type": "quantitative", "axis": {"orient": "right", "values": [0,100,200,300,400], "labels": false, "grid": false, "title": null}}
    }}
  ],
  "resolve": {"axis": {"x": "independent", "y": "independent"}}
 },
 {
  "width": 1109, "height": 135,
  "title": {"text": "Aerodynamic and resistant (shaft) torques"},
  "layer": [
   {"data": {"name": "torque"}, "mark": {"type": "line", "strokeWidth": 1.3},
    "encoding": {
     "x": {"field": "t", "type": "quantitative", "scale": {"domain": [0, 200]}, "axis": {"orient": "bottom", "values": [0,20,40,60,80,100,120,140,160,180,200], "labelPadding": 20, "title": "t [s]", "titlePadding": 5}},
     "y": {"field": "v", "type": "quantitative", "scale": {"domain": [0, 12]}, "axis": {"orient": "left", "values": [0,2,4,6,8,10,12], "labelPadding": 24, "title": "Torque [MNm]", "titleX": -62}},
     "color": {"field": "s", "type": "nominal", "scale": {"domain": ["Mₐ","Mₛ"], "range": ["black","red"]},
       "legend": {"orient": "none", "legendX": 882, "legendY": -6, "direction": "horizontal", "title": null, "symbolType": "stroke", "symbolSize": 2916, "symbolStrokeWidth": 1.5, "columnPadding": 21, "labelOffset": 10, "padding": 0}},
     "strokeDash": {"field": "s", "type": "nominal", "scale": {"domain": ["Mₐ","Mₛ"], "range": [[1,0],[10,4,2,4]]},
       "legend": {"orient": "none", "legendX": 882, "legendY": -6, "direction": "horizontal", "title": null, "symbolType": "stroke", "symbolSize": 2916, "symbolStrokeWidth": 1.5, "columnPadding": 21, "labelOffset": 10, "padding": 0}}
    }},
   {"data": {"name": "torque"}, "mark": {"type": "line", "opacity": 0},
    "encoding": {
     "x": {"field": "t", "type": "quantitative", "axis": {"orient": "top", "values": [0,20,40,60,80,100,120,140,160,180,200], "labels": false, "grid": false, "title": null}},
     "y": {"field": "v", "type": "quantitative", "axis": {"orient": "right", "values": [0,2,4,6,8,10,12], "labels": false, "grid": false, "title": null}},
     "detail": {"field": "s"}
    }}
  ],
  "resolve": {"axis": {"x": "independent", "y": "independent"}}
 }
],
"resolve": {"scale": {"color": "independent", "strokeDash": "independent"}, "legend": {"color": "independent", "strokeDash": "independent"}},
"spacing": 71,
"bounds": "flush"
}
